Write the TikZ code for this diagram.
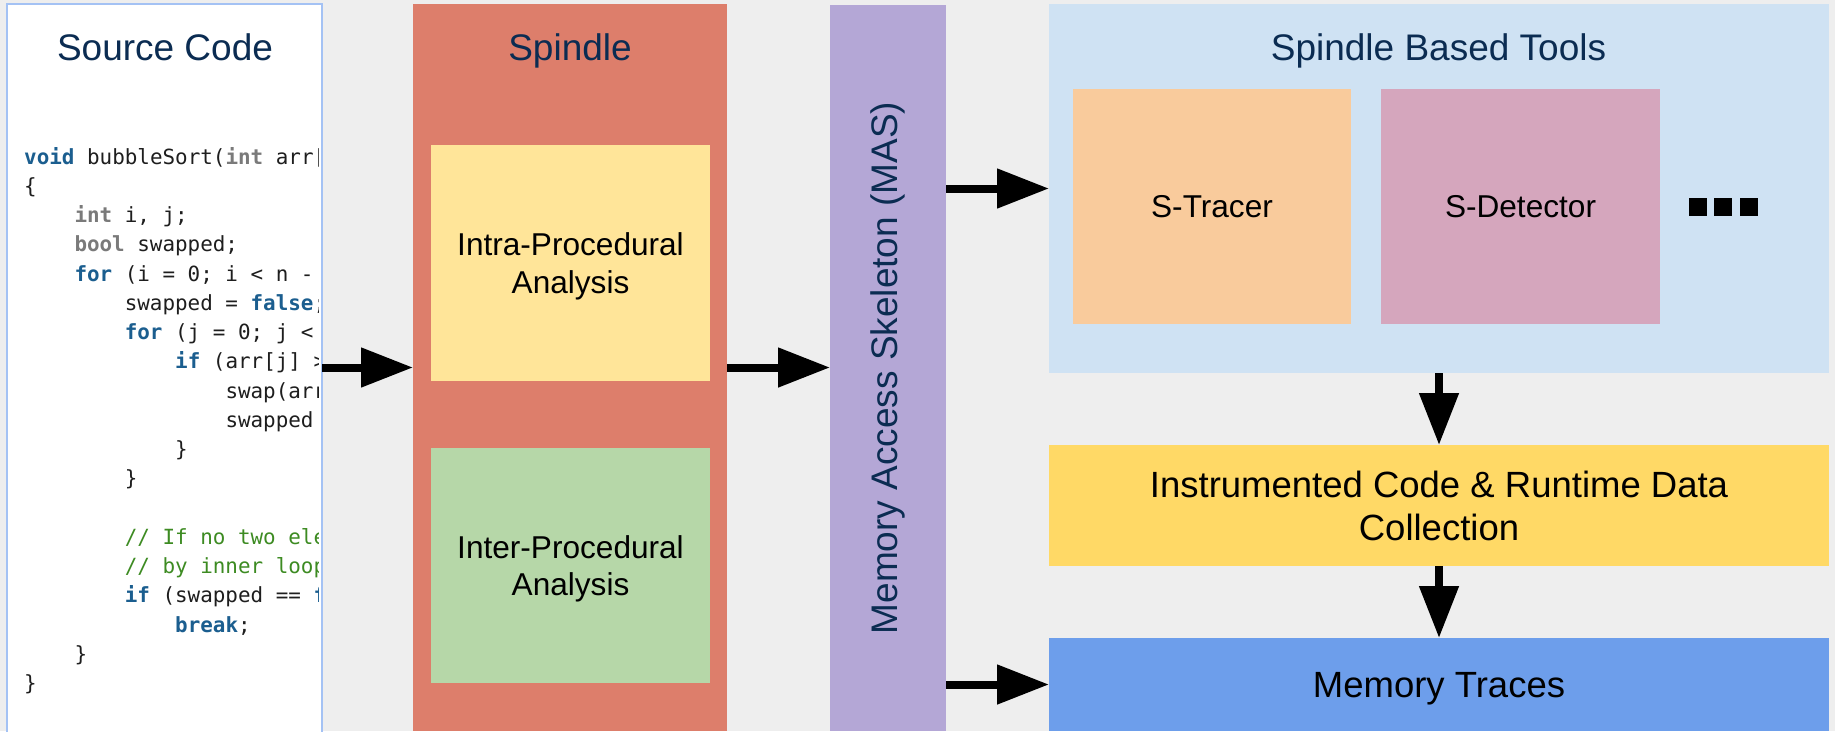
\documentclass[tikz,border=0pt]{standalone}
\usepackage{fontspec}
\setmainfont{Liberation Sans}
\newfontfamily\codefont{DejaVu Sans Mono}
\usetikzlibrary{arrows.meta}

\definecolor{bggray}{HTML}{EEEEEE}
\definecolor{srcborder}{HTML}{A4C2F4}
\definecolor{spindlefill}{HTML}{DD7E6B}
\definecolor{intrafill}{HTML}{FFE599}
\definecolor{interfill}{HTML}{B6D7A8}
\definecolor{masfill}{HTML}{B4A7D6}
\definecolor{toolsfill}{HTML}{CFE2F3}
\definecolor{tracerfill}{HTML}{F9CB9C}
\definecolor{detectorfill}{HTML}{D5A6BD}
\definecolor{instrfill}{HTML}{FFD966}
\definecolor{memfill}{HTML}{6D9EEB}
\definecolor{navy}{HTML}{0B2C52}
\definecolor{kwblue}{HTML}{1B5E8F}
\definecolor{tygray}{HTML}{7A7A7A}
\definecolor{cmgreen}{HTML}{3D8B22}
\definecolor{codeblack}{HTML}{1E1E1E}

% syntax colouring for the listing
\newcommand\codekw[1]{{\color{kwblue}\bfseries #1}}
\newcommand\codety[1]{{\color{tygray}\bfseries #1}}
\newcommand\codecm[1]{{\color{cmgreen}#1}}

\begin{document}
\begin{tikzpicture}[x=1pt, y=-1pt,
  panel/.style={anchor=north west, inner sep=0pt, outer sep=0pt, align=center},
  title/.style={anchor=base, text=navy, inner sep=0pt, font=\fontsize{37}{44}\selectfont},
  label/.style={font=\fontsize{31.6}{37.5}\selectfont, text depth=0pt},
  biglabel/.style={font=\fontsize{36.5}{43}\selectfont, text depth=0pt},
  flow/.style={line width=8pt, -{Triangle[length=52pt, width=38pt]}},
  codeline/.style={anchor=base west, inner sep=0pt, text=codeblack,
                   font=\codefont\fontsize{20.9}{25}\selectfont}]
\useasboundingbox (0,0) rectangle (1835,731);
\fill[bggray] (0,0) rectangle (1835,731);

% source code panel
\node[panel, fill=white, draw=srcborder, line width=2pt,
      minimum width=315pt, minimum height=740pt] (src) at (7,4) {};
\node[title] (srctitle) at (165,60) {Source Code};

% the listing is cut off at the right edge of the panel
\begin{scope}
  \clip (9,6) rectangle (318,731);
  \node[codeline] (c1)  at (24,164)      {\codekw{void} bubbleSort(\codety{int} arr[};
  \node[codeline] (c2)  at (24,193.25)   {\{};
  \node[codeline] (c3)  at (74.3,222.5)  {\codety{int} i, j;};
  \node[codeline] (c4)  at (74.3,251.75) {\codety{bool} swapped;};
  \node[codeline] (c5)  at (74.3,281)    {\codekw{for} (i = 0; i < n - 1};
  \node[codeline] (c6)  at (124.6,310.25){swapped = \codekw{false};};
  \node[codeline] (c7)  at (124.6,339.5) {\codekw{for} (j = 0; j < n};
  \node[codeline] (c8)  at (175,368.75)  {\codekw{if} (arr[j] > a};
  \node[codeline] (c9)  at (225.3,398)   {swap(arr[};
  \node[codeline] (c10) at (225.3,427.25){swapped =};
  \node[codeline] (c11) at (175,456.5)   {\}};
  \node[codeline] (c12) at (124.6,485.75){\}};
  \node[codeline] (c14) at (124.6,544.25){\codecm{// If no two elem}};
  \node[codeline] (c15) at (124.6,573.5) {\codecm{// by inner loop,}};
  \node[codeline] (c16) at (124.6,602.75){\codekw{if} (swapped == \codekw{fa}};
  \node[codeline] (c17) at (175,632)     {\codekw{break};};
  \node[codeline] (c18) at (74.3,661.25) {\}};
  \node[codeline] (c19) at (24,690.5)    {\}};
\end{scope}

% Spindle
\node[panel, fill=spindlefill, minimum width=314pt, minimum height=727pt] (spindle) at (413,4) {};
\node[title] (spindletitle) at (570,60) {Spindle};
\node[panel, fill=intrafill, label, minimum width=279pt, minimum height=236pt] (intra) at (431,145)
  {Intra-Procedural\\Analysis};
\node[panel, fill=interfill, label, minimum width=279pt, minimum height=235pt] (inter) at (431,448)
  {Inter-Procedural\\Analysis};

% memory access skeleton
\node[panel, fill=masfill, minimum width=116pt, minimum height=726pt] (mas) at (830,5) {};
\node[rotate=90, text=navy, inner sep=0pt, font=\fontsize{37}{44}\selectfont] (mastext)
  at (mas.center) {Memory Access Skeleton (MAS)};

% tools built on Spindle
\node[panel, fill=toolsfill, minimum width=780pt, minimum height=369pt] (tools) at (1049,4) {};
\node[title] (toolstitle) at (1438.5,60) {Spindle Based Tools};
\node[panel, fill=tracerfill, label, minimum width=278pt, minimum height=235pt] (tracer) at (1073,89) {S-Tracer};
\node[panel, fill=detectorfill, label, minimum width=279pt, minimum height=235pt] (detector) at (1381,89) {S-Detector};
\fill (1689,198) rectangle +(18,18);
\fill (1714,198) rectangle +(18,18);
\fill (1740,198) rectangle +(18,18);

% outputs
\node[panel, fill=instrfill, biglabel, minimum width=780pt, minimum height=121pt] (instr) at (1049,445)
  {Instrumented Code \& Runtime Data\\Collection};
\node[panel, fill=memfill, biglabel, minimum width=780pt, minimum height=93pt] (mem) at (1049,638)
  {Memory Traces};

% flow arrows
\draw[flow] (spindle.west -| src.east) -- (spindle.west);
\draw[flow] (spindle.east) -- (spindle.east -| mas.west);
\draw[flow] (tools.west -| mas.east) -- (tools.west);
\draw[flow] (mem.west -| mas.east) -- (mem.west);
\draw[flow] (tools.south) -- (instr.north);
\draw[flow] (instr.south) -- (mem.north);
\end{tikzpicture}
\end{document}
